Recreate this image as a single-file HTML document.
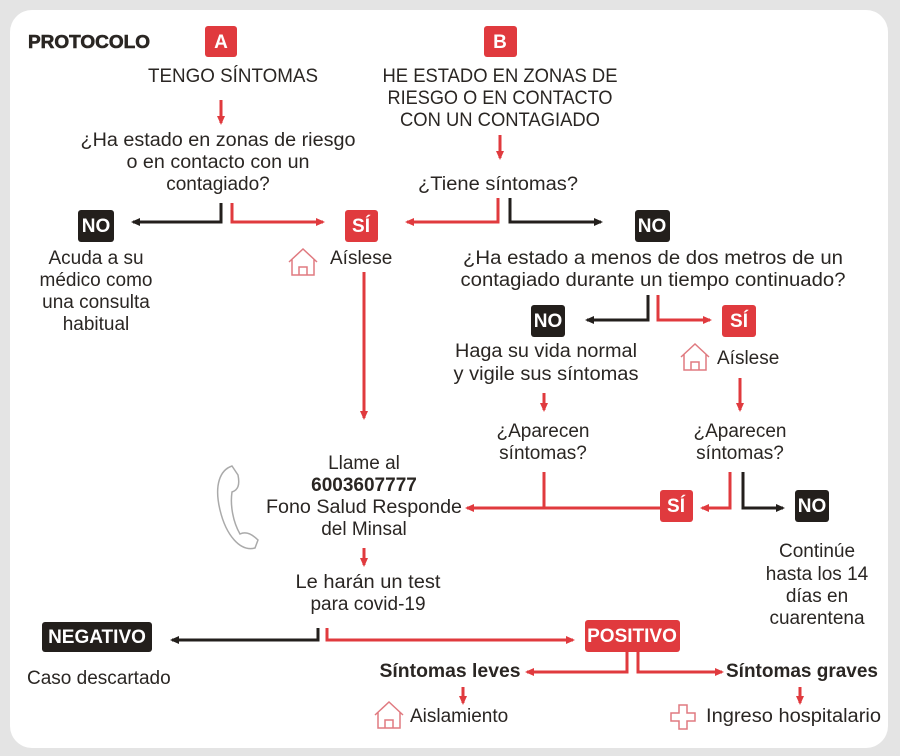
<!DOCTYPE html>
<html><head><meta charset="utf-8"><style>
html,body{margin:0;padding:0;background:#e4e4e4;}
svg{display:block}
text{font-family:"Liberation Sans Narrow","Liberation Sans",sans-serif;fill:#2a2623;font-size:19px}
.b{font-weight:bold}
.w{fill:#fff;font-weight:bold;font-family:"Liberation Sans",sans-serif}
</style></head><body>
<svg width="900" height="756" viewBox="0 0 900 756" xmlns="http://www.w3.org/2000/svg">
<defs>
<marker id="ar" markerWidth="10" markerHeight="10" refX="7" refY="5" orient="auto" markerUnits="userSpaceOnUse"><path d="M0,1 L9,5 L0,9 Z" fill="#e03a3e"/></marker>
<marker id="ak" markerWidth="10" markerHeight="10" refX="7" refY="5" orient="auto" markerUnits="userSpaceOnUse"><path d="M0,1 L9,5 L0,9 Z" fill="#231f1c"/></marker>
</defs>
<rect x="0" y="0" width="900" height="756" fill="#e4e4e4"/>
<rect x="10" y="10" width="878" height="738" rx="22" fill="#fff"/>
<g stroke-width="3" fill="none">
<g stroke="#e03a3e" marker-end="url(#ar)">
<path d="M221,100 V123"/>
<path d="M232,203 V222 H323"/>
<path d="M364,272 V418"/>
<path d="M500,135 V158"/>
<path d="M498,198 V222 H407"/>
<path d="M658,295 V320 H710"/>
<path d="M544,393 V410"/>
<path d="M740,378 V410"/>
<path d="M730,472 V508 H702"/>
<path d="M660,508 H467"/>
<path d="M364,548 V565"/>
<path d="M327,628 V640 H573"/>
<path d="M627,652 V672 H527"/>
<path d="M638,652 V672 H722"/>
<path d="M463,687 V703"/>
<path d="M800,687 V703"/>
</g>
<path d="M544,472 V508" stroke="#e03a3e"/>
<g stroke="#231f1c" marker-end="url(#ak)">
<path d="M221,203 V222 H133"/>
<path d="M510,198 V222 H601"/>
<path d="M648,295 V320 H587"/>
<path d="M743,472 V508 H783"/>
<path d="M318,628 V640 H172"/>
</g>
</g>
<text x="28" y="48" class="b" style="font-family:'Liberation Sans',sans-serif;font-size:18px;font-weight:900" textLength="122" lengthAdjust="spacingAndGlyphs" stroke="#2a2623" stroke-width="0.6">PROTOCOLO</text>
<rect x="205" y="26" width="32" height="31" rx="3" fill="#e03a3e"/><text x="221" y="48" class="w" text-anchor="middle" font-size="16">A</text>
<rect x="484" y="26" width="33" height="31" rx="3" fill="#e03a3e"/><text x="500" y="48" class="w" text-anchor="middle" font-size="16">B</text>
<rect x="78" y="210" width="36" height="32" rx="3" fill="#231f1c"/><text x="96" y="232" class="w" text-anchor="middle" font-size="15">NO</text>
<rect x="345" y="210" width="33" height="32" rx="3" fill="#e03a3e"/><text x="361" y="232" class="w" text-anchor="middle" font-size="15">SÍ</text>
<rect x="635" y="210" width="35" height="32" rx="3" fill="#231f1c"/><text x="652" y="232" class="w" text-anchor="middle" font-size="15">NO</text>
<rect x="531" y="305" width="34" height="32" rx="3" fill="#231f1c"/><text x="548" y="327" class="w" text-anchor="middle" font-size="15">NO</text>
<rect x="722" y="305" width="34" height="32" rx="3" fill="#e03a3e"/><text x="739" y="327" class="w" text-anchor="middle" font-size="15">SÍ</text>
<rect x="660" y="490" width="33" height="32" rx="3" fill="#e03a3e"/><text x="676" y="512" class="w" text-anchor="middle" font-size="15">SÍ</text>
<rect x="795" y="490" width="34" height="32" rx="3" fill="#231f1c"/><text x="812" y="512" class="w" text-anchor="middle" font-size="15">NO</text>
<rect x="42" y="622" width="110" height="30" rx="3" fill="#231f1c"/><text x="97" y="643" class="w" text-anchor="middle" font-size="15">NEGATIVO</text>
<rect x="585" y="620" width="95" height="32" rx="3" fill="#e03a3e"/><text x="632" y="642" class="w" text-anchor="middle" font-size="15">POSITIVO</text>
<g text-anchor="middle">
<text x="233" y="82" textLength="170" lengthAdjust="spacingAndGlyphs">TENGO SÍNTOMAS</text>
<text x="218" y="146" textLength="275" lengthAdjust="spacingAndGlyphs">¿Ha estado en zonas de riesgo</text>
<text x="218" y="168" textLength="183" lengthAdjust="spacingAndGlyphs">o en contacto con un</text>
<text x="218" y="190">contagiado?</text>
<text x="96" y="264">Acuda a su</text>
<text x="96" y="286">médico como</text>
<text x="96" y="308">una consulta</text>
<text x="96" y="330">habitual</text>
<text x="500" y="82" textLength="235" lengthAdjust="spacingAndGlyphs">HE ESTADO EN ZONAS DE</text>
<text x="500" y="104" textLength="225" lengthAdjust="spacingAndGlyphs">RIESGO O EN CONTACTO</text>
<text x="500" y="126" textLength="200" lengthAdjust="spacingAndGlyphs">CON UN CONTAGIADO</text>
<text x="498" y="190" textLength="160" lengthAdjust="spacingAndGlyphs">¿Tiene síntomas?</text>
<text x="653" y="264" textLength="380" lengthAdjust="spacingAndGlyphs">¿Ha estado a menos de dos metros de un</text>
<text x="653" y="286" textLength="385" lengthAdjust="spacingAndGlyphs">contagiado durante un tiempo continuado?</text>
<text x="546" y="357" textLength="182" lengthAdjust="spacingAndGlyphs">Haga su vida normal</text>
<text x="546" y="380" textLength="185" lengthAdjust="spacingAndGlyphs">y vigile sus síntomas</text>
<text x="543" y="437">¿Aparecen</text><text x="543" y="459">síntomas?</text>
<text x="740" y="437">¿Aparecen</text><text x="740" y="459">síntomas?</text>
<text x="817" y="557">Continúe</text><text x="817" y="580">hasta los 14</text><text x="817" y="602">días en</text><text x="817" y="624">cuarentena</text>
<text x="364" y="469">Llame al</text>
<text x="364" y="491" class="b">6003607777</text>
<text x="364" y="513" textLength="196" lengthAdjust="spacingAndGlyphs">Fono Salud Responde</text>
<text x="364" y="535">del Minsal</text>
<text x="368" y="588" textLength="145" lengthAdjust="spacingAndGlyphs">Le harán un test</text>
<text x="368" y="610">para covid-19</text>
<text x="450" y="677" class="b" textLength="141" lengthAdjust="spacingAndGlyphs">Síntomas leves</text>
</g>
<text x="330" y="264">Aíslese</text>
<text x="717" y="364">Aíslese</text>
<text x="27" y="684">Caso descartado</text>
<text x="726" y="677" class="b" textLength="152" lengthAdjust="spacingAndGlyphs">Síntomas graves</text>
<text x="410" y="722">Aislamiento</text>
<text x="706" y="722" textLength="175" lengthAdjust="spacingAndGlyphs">Ingreso hospitalario</text>
<g fill="none" stroke="#e07a80" stroke-width="1.5">
<path d="M289,262 L303,249 L317,262 M292,259 V275 H314 V259 M299,275 V267 H307 V275"/>
<path d="M681,357 L695,344 L709,357 M684,354 V370 H706 V354 M691,370 V362 H699 V370"/>
<path d="M375,715 L389,702 L403,715 M378,712 V728 H400 V712 M385,728 V720 H393 V728"/>
<path d="M679,705 h8 v8 h8 v8 h-8 v8 h-8 v-8 h-8 v-8 h8 z"/>
</g>
<path d="M232,466 C220,470 214,485 220,510 C226,535 240,552 255,548 L258,540 C250,532 244,532 240,534 C233,522 230,505 232,492 C238,490 240,485 238,475 Z" fill="none" stroke="#aaa" stroke-width="1.5"/>
</svg>
</body></html>
